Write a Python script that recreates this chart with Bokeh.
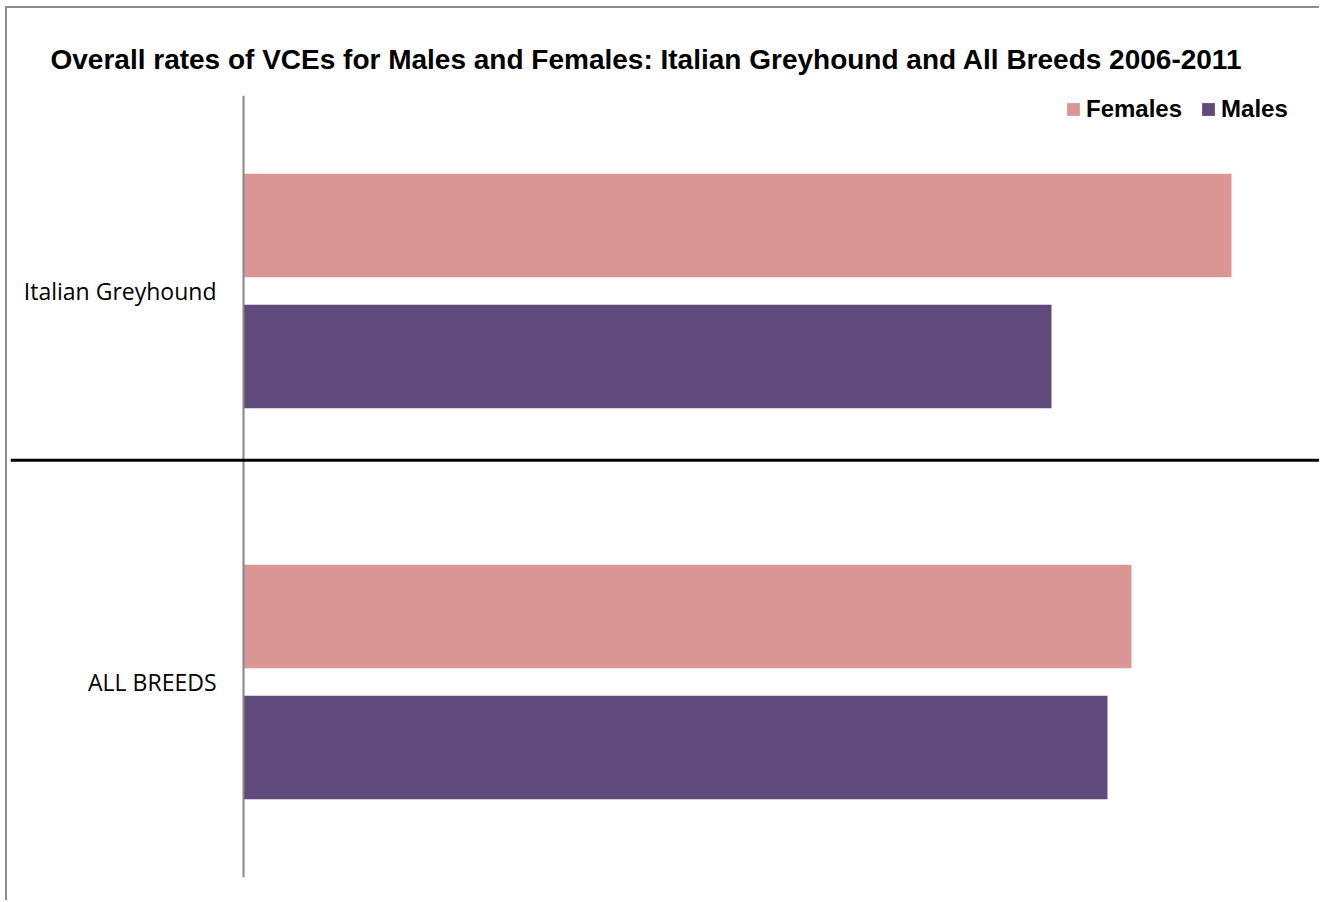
from bokeh.plotting import figure
from bokeh.models import FactorRange, Span, Legend, LegendItem, ColumnDataSource
from bokeh.transform import dodge
from bokeh.embed import file_html
from bokeh.resources import INLINE

# ---- data ----
categories = ["ALL BREEDS", "Italian Greyhound"]   # bottom to top
females = [4.44, 4.94]
males = [4.32, 4.04]
series_names = ["Females", "Males"]
title_text = "Overall rates of VCEs for Males and Females: Italian Greyhound and All Breeds 2006-2011"

FEMALE_COLOR = "#D99694"
MALE_COLOR = "#604A7B"

src = ColumnDataSource(dict(cat=categories, females=females, males=males))

p = figure(
    width=1314, height=894,
    y_range=FactorRange(*categories),
    x_range=(-1.165, 5.39),
    output_backend="svg", toolbar_location=None,
    x_axis_location=None,
    min_border_left=3, min_border_right=0,
    min_border_top=87, min_border_bottom=25,
    title=title_text,
)
p.styles = {"border-left": "2px solid #8c8c8c", "border-top": "2px solid #8c8c8c",
            "margin-left": "5px", "margin-top": "6px"}

p.title.text_font = "Liberation Sans"
p.title.text_font_size = "28px"
p.title.text_font_style = "bold"
p.title.text_color = "black"
p.title.align = "left"
p.title.offset = 40
p.title.standoff = 42

p.outline_line_color = None
p.background_fill_color = "white"
p.border_fill_color = "white"
p.xgrid.visible = False
p.ygrid.visible = False

bar_h = 0.265
rf = p.hbar(y=dodge("cat", 0.1675, range=p.y_range), right="females", left=0,
            height=bar_h, source=src, color=FEMALE_COLOR, line_color=None)
rm = p.hbar(y=dodge("cat", -0.1675, range=p.y_range), right="males", left=0,
            height=bar_h, source=src, color=MALE_COLOR, line_color=None)

yax = p.yaxis[0]
yax.fixed_location = 0
yax.axis_line_color = "#868686"
yax.axis_line_width = 2
yax.major_tick_line_color = None
yax.minor_tick_line_color = None
yax.major_tick_out = 0
yax.major_tick_in = 0
yax.major_label_standoff = 27
yax.major_label_text_font = "Open Sans"
yax.major_label_text_font_size = "23px"
yax.major_label_text_color = "black"

sep = Span(location=1.067, dimension="width", line_color="black", line_width=3)
p.add_layout(sep)

legend = Legend(items=[LegendItem(label=series_names[0], renderers=[rf]),
                       LegendItem(label=series_names[1], renderers=[rm])],
                orientation="horizontal", location="top_right")
legend.label_text_font = "Liberation Sans"
legend.label_text_font_size = "24px"
legend.label_text_font_style = "bold"
legend.label_text_color = "black"
legend.glyph_width = 16
legend.glyph_height = 16
legend.label_standoff = 5
legend.spacing = 18
legend.padding = 0
legend.margin = 0
legend.border_line_color = None
legend.background_fill_alpha = 0
legend.label_height = 20
legend.location = (1055, 754)
p.add_layout(legend)

open("out.html", "w").write(file_html(p, INLINE))
